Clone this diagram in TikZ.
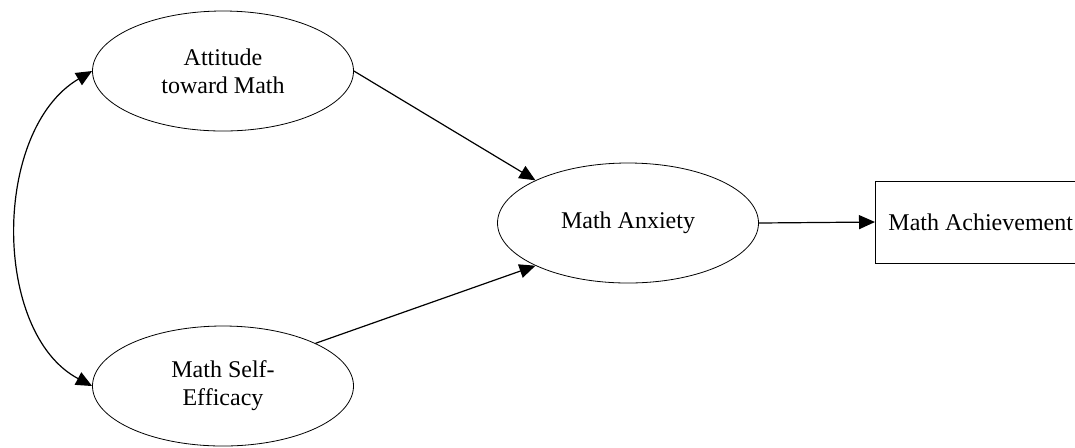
\documentclass[tikz,border=0pt]{standalone}
\usepackage{fontspec}
\setmainfont{Liberation Serif}
\usetikzlibrary{arrows.meta,positioning,shapes.geometric}
\tikzset{
  latent/.style={draw, ellipse, minimum width=130.5pt, minimum height=60pt,
    inner sep=0pt, align=center, font=\fontsize{12}{14}\selectfont},
  observed/.style={draw, rectangle, minimum width=105pt, minimum height=41pt,
    inner sep=6.5pt, anchor=west, align=left, font=\fontsize{12}{14}\selectfont},
  causal/.style={line width=0.6pt, -{Triangle[length=8pt,width=7pt]}},
  covar/.style={line width=0.6pt, {Triangle[length=8pt,width=7pt]}-{Triangle[length=8pt,width=7pt]}}
}
\begin{document}
\begin{tikzpicture}[x=0.5pt, y=-0.5pt]

% --- FRAME (pixel grid of the original figure) ---
\path[use as bounding box, clip] (0,0) rectangle (1075,447);

% --- LATENT VARIABLES ---
\node[latent] (attitude) at (223,71)  {Attitude\\toward Math};
\node[latent] (efficacy) at (223,386) {Math Self-\\Efficacy};
\node[latent] (anxiety)  at (628,223) {Math Anxiety};

% --- OUTCOME ---
\node[observed] (achieve) at (875,222) {Math Achievement};

% --- PATHS ---
\draw[causal] (attitude.east) -- (anxiety.north west);
\draw[causal] (efficacy.north east) -- (anxiety.south west);
\draw[causal] (anxiety.east) -- (achieve.west);

% --- CORRELATION ---
\draw[covar] (attitude.west) .. controls (-8,130) and (-8,333) .. (efficacy.west);

\end{tikzpicture}
\end{document}
